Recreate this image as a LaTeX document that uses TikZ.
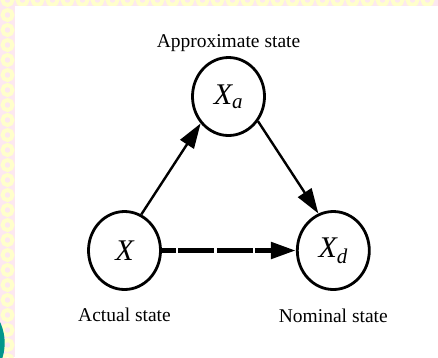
\documentclass[tikz,border=0pt]{standalone}
\usepackage{fontspec}
\setmainfont{Liberation Serif}
\usetikzlibrary{arrows.meta,positioning,shapes.geometric}
\definecolor{bgyellow}{RGB}{255,255,204}
\definecolor{bgpink}{RGB}{252,232,240}
\definecolor{tealdot}{RGB}{0,150,140}

\begin{document}
\begin{tikzpicture}[
    x=1pt, y=-1pt,
    >={Triangle[length=25pt,width=16pt]},
    state/.style={ellipse,draw,line width=2.8pt,minimum width=72pt,minimum height=78pt,
      inner sep=0pt,font=\fontsize{30}{32}\selectfont\itshape},
    caption/.style={inner sep=0pt,font=\fontsize{19.5}{22}\selectfont},
    ring/.style={draw=bgyellow,line width=4pt}
  ]
  % slide frame
  \useasboundingbox (0,0) rectangle (438,357);
  \begin{scope}
    \clip (0,0) rectangle (438,357);
    \fill[bgpink] (0,0) rectangle (438,357);
    \foreach \y in {0,15,...,360}
      \draw[ring] (7.5,\y) circle (5pt);
    \foreach \x in {22.5,37.5,...,440}
      \draw[ring] (\x,0) circle (5pt);
    \fill[tealdot] (-44.6,343) circle (49.3pt);
    \fill[white] (15,6) rectangle (438,357);
  \end{scope}

  \node[state] (X) at (124.5,250.5) {X};
  \node[state,right=134pt of X] (Xd) {X\textsubscript{d}};
  \node[state] (Xa) at (228.5,96.5) {X\textsubscript{a}};

  \node[caption,above=4pt of Xa] (approx) {Approximate state};
  \node[caption,below=17pt of X] (actual) {Actual state};
  \node[caption,below=18pt of Xd] (nominal) {Nominal state};

  \draw[->,line width=2.4pt] (X.65) -- (Xa.224);
  \draw[->,line width=2.4pt] (Xa.320) -- (Xd.112);
  \draw[->,line width=5pt,dash pattern=on 36pt off 2.5pt,dash phase=22pt] (X) -- (Xd);
\end{tikzpicture}
\end{document}
